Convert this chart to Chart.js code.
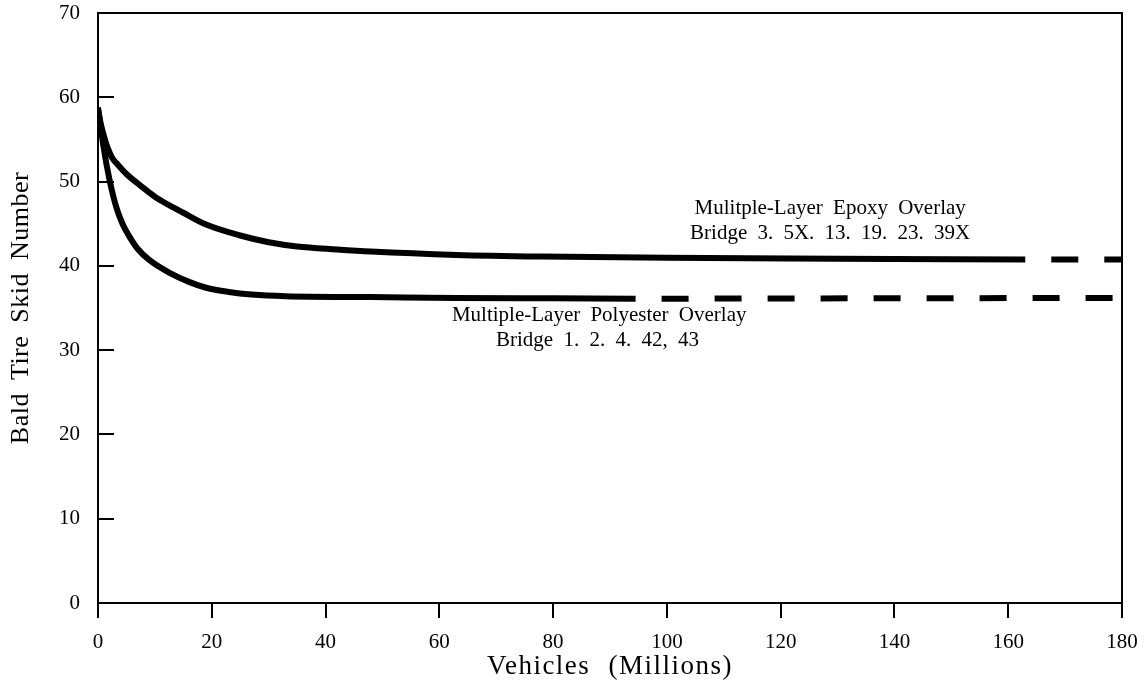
<!DOCTYPE html>
<html>
<head>
<meta charset="utf-8">
<script src="https://cdn.jsdelivr.net/npm/chart.js@4"></script>
<style>
  html, body { margin: 0; padding: 0; background: #fff; }
  #wrap { width: 1144px; height: 696px; }
</style>
</head>
<body>
<div id="wrap"><canvas id="chart" width="1144" height="696"></canvas></div>
<script>
// Multiple-layer epoxy overlay (solid part, then dashed extension)
const epoxyX = [0, 0.5, 1, 1.7, 2.5, 3.5, 5, 7.5, 10, 12.5, 15, 19, 25, 30, 35, 42, 48, 63, 78, 100, 130, 163];
const epoxyY = [58.6, 56.8, 55.5, 54.0, 52.8, 52.0, 50.9, 49.5, 48.2, 47.2, 46.3, 44.9, 43.6, 42.8, 42.3, 41.95, 41.7, 41.3, 41.1, 40.95, 40.85, 40.75];
const epoxyDashX = [163, 180];
const epoxyDashY = [40.75, 40.75];

// Multiple-layer polyester overlay
const polyX = [0, 1, 2, 3.2, 4.3, 5.5, 7, 9, 12.5, 16, 19, 23, 27, 33, 48, 63, 80, 94.5];
const polyY = [58.8, 54, 50.3, 47, 45, 43.5, 42, 40.7, 39.2, 38.1, 37.4, 36.9, 36.6, 36.4, 36.3, 36.2, 36.15, 36.1];
const polyDashX = [94.5, 180];
const polyDashY = [36.1, 36.2];

// curve labels: [text, x, y] in data units (text centred on x)
const epoxyLabel = [['Mulitple-Layer Epoxy Overlay', 128.7, 46.8], ['Bridge 3. 5X. 13. 19. 23. 39X', 128.7, 43.8]];
const polyLabel = [['Multiple-Layer Polyester Overlay', 88.1, 34.1], ['Bridge 1. 2. 4. 42, 43', 87.8, 31.1]];

const xTitle = 'Vehicles (Millions)';
const yTitle = 'Bald Tire Skid Number';

const serif = '"Liberation Serif", "Times New Roman", serif';

function pts(xs, ys) {
  return xs.map((x, i) => ({ x: x, y: ys[i] }));
}

function lineSet(xs, ys, dashed) {
  return {
    data: pts(xs, ys),
    borderColor: '#000',
    borderWidth: 6,
    borderCapStyle: 'butt',
    borderDash: dashed ? [27, 26] : [],
    borderDashOffset: dashed ? 27 : 0,
    pointRadius: 0,
    cubicInterpolationMode: 'monotone',
    fill: false
  };
}

// top/right frame, inward y ticks, axis titles and the curve labels
const extras = {
  id: 'extras',
  afterDraw(chart) {
    const ctx = chart.ctx;
    const a = chart.chartArea;
    const xs = chart.scales.x, ys = chart.scales.y;
    ctx.save();
    ctx.strokeStyle = '#000';
    ctx.lineWidth = 2;
    ctx.beginPath();
    ctx.moveTo(a.left, a.top);
    ctx.lineTo(a.right, a.top);
    ctx.lineTo(a.right, a.bottom);
    ctx.stroke();
    ys.ticks.forEach(t => {
      if (t.value === 0 || t.value === 70) return;
      const py = Math.round(ys.getPixelForValue(t.value));
      ctx.beginPath();
      ctx.moveTo(a.left, py);
      ctx.lineTo(a.left + 16, py);
      ctx.stroke();
    });

    ctx.fillStyle = '#000';
    ctx.textAlign = 'center';
    ctx.textBaseline = 'middle';

    ctx.font = '21px ' + serif;
    ctx.letterSpacing = '0px';
    ctx.wordSpacing = '5px';
    epoxyLabel.concat(polyLabel).forEach(l => {
      ctx.fillText(l[0], xs.getPixelForValue(l[1]), ys.getPixelForValue(l[2]));
    });

    ctx.font = '27px ' + serif;
    ctx.letterSpacing = '1.5px';
    ctx.wordSpacing = '10px';
    ctx.fillText(xTitle, (a.left + a.right) / 2, 667);

    ctx.font = '26px ' + serif;
    ctx.letterSpacing = '0.5px';
    ctx.wordSpacing = '6px';
    ctx.translate(21, (a.top + a.bottom) / 2);
    ctx.rotate(-Math.PI / 2);
    ctx.fillText(yTitle, 0, 0);
    ctx.restore();
  }
};

new Chart(document.getElementById('chart').getContext('2d'), {
  type: 'line',
  data: {
    datasets: [
      lineSet(epoxyX, epoxyY, false),
      lineSet(epoxyDashX, epoxyDashY, true),
      lineSet(polyX, polyY, false),
      lineSet(polyDashX, polyDashY, true)
    ]
  },
  options: {
    responsive: false,
    animation: false,
    layout: { padding: { top: 13, right: 22, left: 0, bottom: 0 } },
    plugins: { legend: { display: false }, tooltip: { enabled: false } },
    scales: {
      x: {
        type: 'linear',
        min: 0,
        max: 180,
        afterFit: s => { s.height = 93; s.paddingLeft = 0; s.paddingRight = 0; },
        ticks: { stepSize: 20, color: '#000', padding: 12, maxRotation: 0,
                 font: { family: serif, size: 21 } },
        grid: { drawOnChartArea: false, drawTicks: true, tickLength: 15,
                color: '#000', lineWidth: 2 },
        border: { color: '#000', width: 2 }
      },
      y: {
        min: 0,
        max: 70,
        afterFit: s => { s.width = 98; s.paddingTop = 0; s.paddingBottom = 0; },
        ticks: { stepSize: 10, color: '#000', padding: 18,
                 font: { family: serif, size: 21 } },
        grid: { drawOnChartArea: false, drawTicks: false },
        border: { color: '#000', width: 2 }
      }
    }
  },
  plugins: [extras]
});
</script>
</body>
</html>
